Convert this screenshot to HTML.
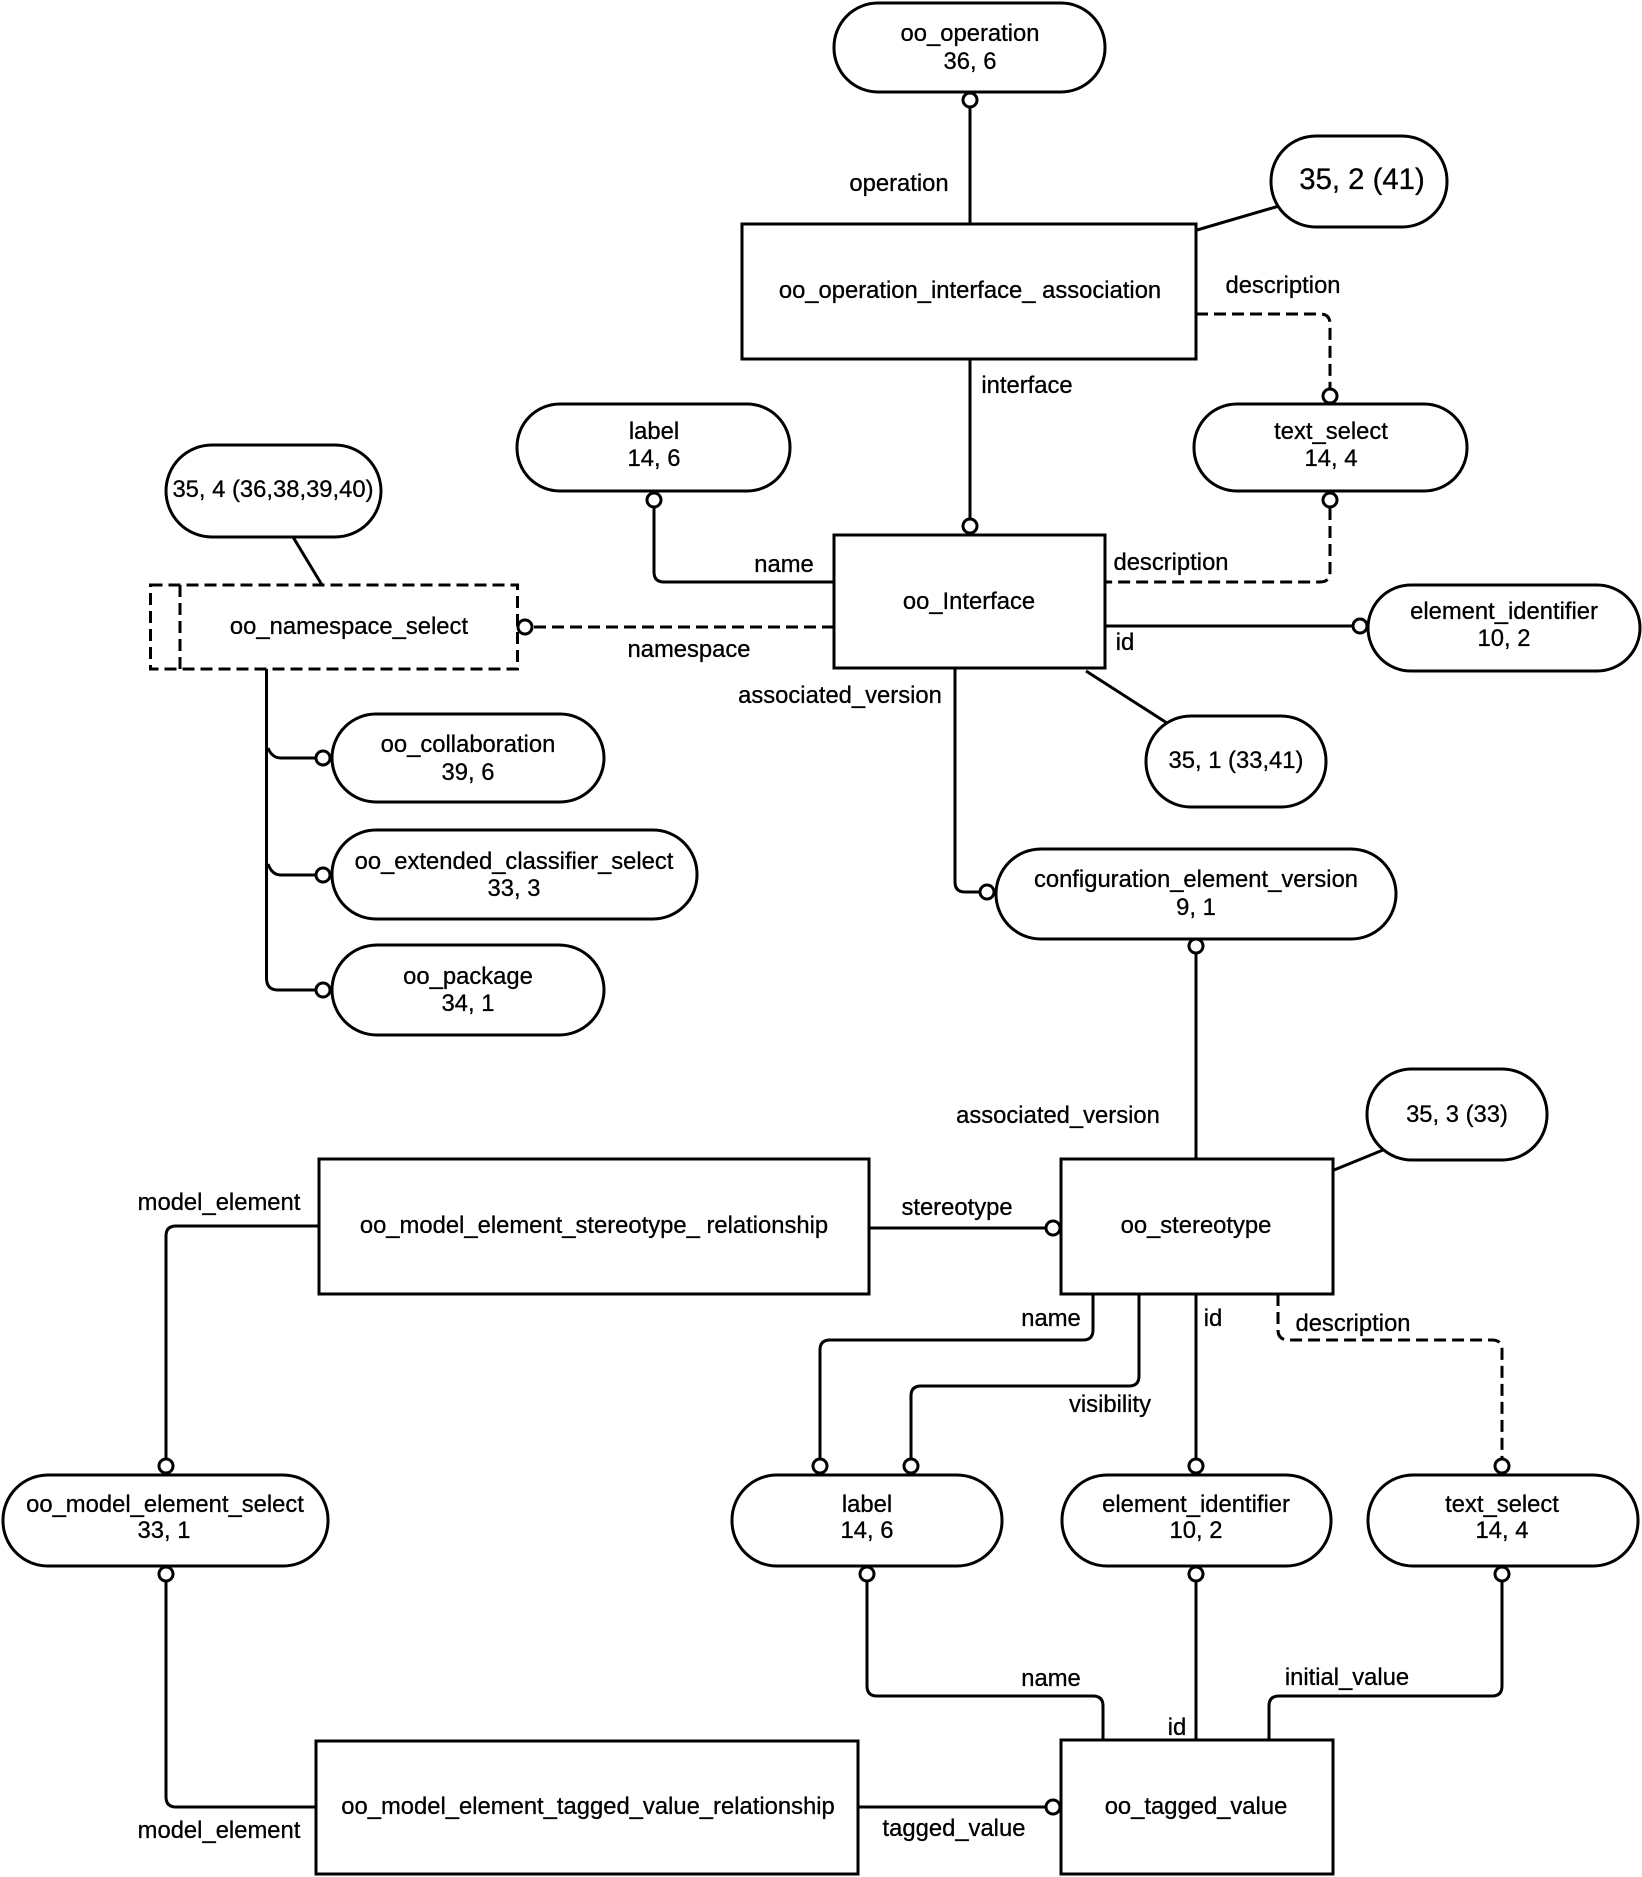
<!DOCTYPE html>
<html><head><meta charset="utf-8"><style>
html,body{margin:0;padding:0;background:#fff}
svg{display:block}
text{font-family:"Liberation Sans",Arial,sans-serif;font-size:23.8px;fill:#000;text-anchor:middle;stroke:#000;stroke-width:.3}
.s{fill:#fff;stroke:#000;stroke-width:3}
.l{fill:none;stroke:#000;stroke-width:3}
.d{fill:none;stroke:#000;stroke-width:3;stroke-dasharray:12 6}
.c{fill:#fff;stroke:#000;stroke-width:3}
</style></head><body>
<svg xmlns="http://www.w3.org/2000/svg" width="1642" height="1877" viewBox="0 0 1642 1877">
<rect width="1642" height="1877" fill="#fff"/>
<!-- connectors -->
<path class="l" d="M970 107V224"/>
<path class="l" d="M1197 230L1279 206"/>
<path class="l" d="M970 359V519"/>
<path class="d" d="M1196 314H1320Q1330 314 1330 324V388"/>
<path class="d" d="M1330 508V572Q1330 582 1320 582H1106"/>
<path class="l" d="M654 507V572Q654 582 664 582H834"/>
<path class="d" d="M534 627H834"/>
<path class="l" d="M1105 626H1353"/>
<path class="l" d="M1086 671L1167 723"/>
<path class="l" d="M955 668V882Q955 892 965 892H979"/>
<path class="l" d="M1196 954V1160"/>
<path class="l" d="M293 537L322 585"/>
<path class="l" d="M266.500 669V978Q266.500 990 278 990H315"/>
<path class="l" d="M268 748Q272 758 281 758H315"/>
<path class="l" d="M268 864Q272 875 281 875H315"/>
<path class="l" d="M1334 1170L1383 1150"/>
<path class="l" d="M869 1228H1045"/>
<path class="l" d="M319 1226H176Q166 1226 166 1236V1459"/>
<path class="l" d="M166 1581V1797Q166 1807 176 1807H316"/>
<path class="l" d="M1093 1294V1330Q1093 1340 1083 1340H830Q820 1340 820 1350V1459"/>
<path class="l" d="M1139 1294V1376Q1139 1386 1129 1386H921Q911 1386 911 1396V1459"/>
<path class="l" d="M1196 1294V1459"/>
<path class="d" d="M1278 1294V1330Q1278 1340 1289 1340H1492Q1502 1340 1502 1350V1459"/>
<path class="l" d="M867 1581V1686Q867 1696 877 1696H1093Q1103 1696 1103 1706V1740"/>
<path class="l" d="M1196 1581V1740"/>
<path class="l" d="M1502 1581V1686Q1502 1696 1492 1696H1279Q1269 1696 1269 1706V1740"/>
<path class="l" d="M858 1807H1045"/>
<!-- rects -->
<rect class="s" x="742" y="224" width="454" height="135"/>
<rect class="s" x="834" y="535" width="271" height="133"/>
<rect class="s" x="319" y="1159" width="550" height="135"/>
<rect class="s" x="1061" y="1159" width="272" height="135"/>
<rect class="s" x="316" y="1741" width="542" height="133"/>
<rect class="s" x="1061" y="1740" width="272" height="134"/>
<rect class="d" x="150.500" y="585" width="367" height="84" style="fill:#fff"/>
<path class="d" d="M180 585V669"/>
<!-- pills -->
<rect class="s" x="834" y="3" width="271" height="89" rx="44" />
<rect class="s" x="1271" y="136" width="176" height="91" rx="45"/>
<rect class="s" x="1194" y="404" width="273" height="87" rx="43"/>
<rect class="s" x="517" y="404" width="273" height="87" rx="43"/>
<rect class="s" x="166" y="445" width="215" height="92" rx="46"/>
<rect class="s" x="1368" y="585" width="272" height="86" rx="43"/>
<rect class="s" x="1146" y="716" width="180" height="91" rx="45"/>
<rect class="s" x="332" y="714" width="272" height="88" rx="44"/>
<rect class="s" x="332" y="830" width="365" height="89" rx="44"/>
<rect class="s" x="332" y="945" width="272" height="90" rx="45"/>
<rect class="s" x="996" y="849" width="400" height="90" rx="45"/>
<rect class="s" x="1367" y="1069" width="180" height="91" rx="45"/>
<rect class="s" x="3" y="1475" width="325" height="91" rx="45"/>
<rect class="s" x="732" y="1475" width="270" height="91" rx="45"/>
<rect class="s" x="1062" y="1475" width="269" height="91" rx="45"/>
<rect class="s" x="1368" y="1475" width="270" height="91" rx="45"/>
<!-- circles -->
<circle class="c" cx="970" cy="100" r="7"/>
<circle class="c" cx="1330" cy="396" r="7"/>
<circle class="c" cx="1330" cy="500" r="7"/>
<circle class="c" cx="970" cy="526" r="7"/>
<circle class="c" cx="654" cy="500" r="7"/>
<circle class="c" cx="525" cy="627" r="7"/>
<circle class="c" cx="1360" cy="626" r="7"/>
<circle class="c" cx="987" cy="892" r="7"/>
<circle class="c" cx="1196" cy="946" r="7"/>
<circle class="c" cx="323" cy="758" r="7"/>
<circle class="c" cx="323" cy="875" r="7"/>
<circle class="c" cx="323" cy="990" r="7"/>
<circle class="c" cx="1053" cy="1228" r="7"/>
<circle class="c" cx="1053" cy="1807" r="7"/>
<circle class="c" cx="166" cy="1466" r="7"/>
<circle class="c" cx="166" cy="1574" r="7"/>
<circle class="c" cx="820" cy="1466" r="7"/>
<circle class="c" cx="911" cy="1466" r="7"/>
<circle class="c" cx="1196" cy="1466" r="7"/>
<circle class="c" cx="1502" cy="1466" r="7"/>
<circle class="c" cx="867" cy="1574" r="7"/>
<circle class="c" cx="1196" cy="1574" r="7"/>
<circle class="c" cx="1502" cy="1574" r="7"/>
<!-- pill text -->
<text x="970" y="41">oo_operation</text><text x="970" y="69">36, 6</text>
<text x="1362" y="189" style="font-size:29.300px">35, 2 (41)</text>
<text x="1331" y="439">text_select</text><text x="1331" y="466">14, 4</text>
<text x="654" y="439">label</text><text x="654" y="466">14, 6</text>
<text x="273" y="497">35, 4 (36,38,39,40)</text>
<text x="1504" y="619">element_identifier</text><text x="1504" y="646">10, 2</text>
<text x="1236" y="768">35, 1 (33,41)</text>
<text x="468" y="752">oo_collaboration</text><text x="468" y="780">39, 6</text>
<text x="514" y="869">oo_extended_classifier_select</text><text x="514" y="896">33, 3</text>
<text x="468" y="984">oo_package</text><text x="468" y="1011">34, 1</text>
<text x="1196" y="887">configuration_element_version</text><text x="1196" y="915">9, 1</text>
<text x="1457" y="1122">35, 3 (33)</text>
<text x="165" y="1512">oo_model_element_select</text><text x="164" y="1538">33, 1</text>
<text x="867" y="1512">label</text><text x="867" y="1538">14, 6</text>
<text x="1196" y="1512">element_identifier</text><text x="1196" y="1538">10, 2</text>
<text x="1502" y="1512">text_select</text><text x="1502" y="1538">14, 4</text>
<!-- rect text -->
<text x="970" y="298">oo_operation_interface_ association</text>
<text x="969" y="609">oo_Interface</text>
<text x="349" y="634">oo_namespace_select</text>
<text x="594" y="1233">oo_model_element_stereotype_ relationship</text>
<text x="1196" y="1233">oo_stereotype</text>
<text x="588" y="1814">oo_model_element_tagged_value_relationship</text>
<text x="1196" y="1814">oo_tagged_value</text>
<!-- connector labels -->
<text x="899" y="191">operation</text>
<text x="1283" y="293">description</text>
<text x="1027" y="393">interface</text>
<text x="1171" y="570">description</text>
<text x="784" y="572">name</text>
<text x="689" y="657">namespace</text>
<text x="840" y="703">associated_version</text>
<text x="1125" y="650">id</text>
<text x="1058" y="1123">associated_version</text>
<text x="957" y="1215">stereotype</text>
<text x="1051" y="1326">name</text>
<text x="1213" y="1326">id</text>
<text x="1353" y="1331">description</text>
<text x="1110" y="1412">visibility</text>
<text x="1051" y="1686">name</text>
<text x="1347" y="1685">initial_value</text>
<text x="1177" y="1735">id</text>
<text x="954" y="1836">tagged_value</text>
<text x="219" y="1210">model_element</text>
<text x="219" y="1838">model_element</text>
</svg>
</body></html>
